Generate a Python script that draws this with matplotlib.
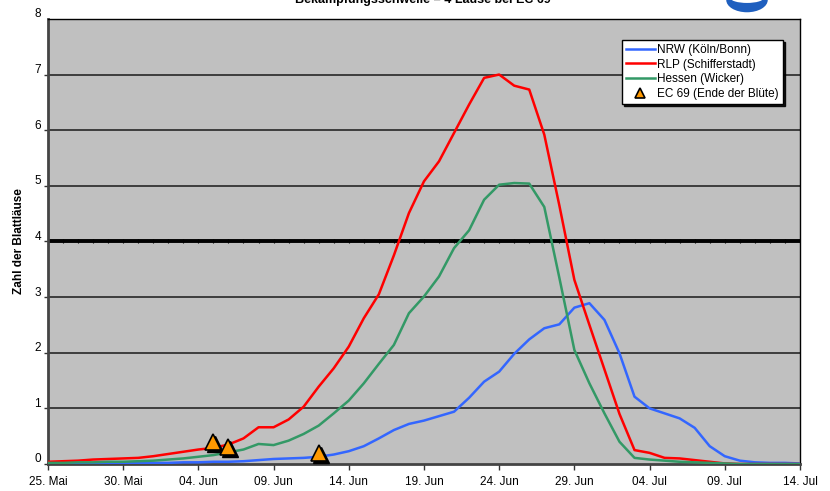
import numpy as np
import matplotlib
matplotlib.use("Agg")
import matplotlib.pyplot as plt
from matplotlib import transforms
from matplotlib.patches import Ellipse

plt.rcParams['font.family'] = ['Liberation Sans', 'DejaVu Sans']

# days since 25. Mai
days = np.arange(0, 51)
date_labels = ['25. Mai', '30. Mai', '04. Jun', '09. Jun', '14. Jun',
               '19. Jun', '24. Jun', '29. Jun', '04. Jul', '09. Jul', '14. Jul']

nrw = [0.01, 0.01, 0.01, 0.01, 0.01, 0.02, 0.02, 0.02, 0.02, 0.03,
       0.03, 0.04, 0.04, 0.05, 0.07, 0.09, 0.10, 0.11, 0.13, 0.17,
       0.23, 0.32, 0.46, 0.61, 0.72, 0.78, 0.86, 0.94, 1.19, 1.48,
       1.66, 1.98, 2.24, 2.44, 2.51, 2.81, 2.89, 2.59, 1.99, 1.21,
       1.00, 0.91, 0.82, 0.65, 0.32, 0.14, 0.06, 0.03, 0.02, 0.02, 0.01]
rlp = [0.04, 0.05, 0.06, 0.08, 0.09, 0.10, 0.11, 0.14, 0.18, 0.22,
       0.26, 0.29, 0.35, 0.46, 0.66, 0.66, 0.80, 1.03, 1.39, 1.72,
       2.11, 2.62, 3.05, 3.75, 4.51, 5.08, 5.44, 5.95, 6.46, 6.94,
       7.00, 6.80, 6.73, 5.92, 4.65, 3.31, 2.50, 1.70, 0.90, 0.25,
       0.20, 0.11, 0.10, 0.07, 0.04, 0.01, 0.00, 0.00, 0.00, 0.00, 0.00]
hessen = [0.02, 0.02, 0.03, 0.03, 0.04, 0.04, 0.05, 0.06, 0.08, 0.10,
          0.13, 0.16, 0.21, 0.26, 0.36, 0.34, 0.42, 0.54, 0.69, 0.91,
          1.14, 1.45, 1.80, 2.14, 2.71, 3.01, 3.37, 3.88, 4.20, 4.75,
          5.02, 5.05, 5.04, 4.62, 3.35, 2.05, 1.45, 0.91, 0.40, 0.11,
          0.08, 0.06, 0.04, 0.03, 0.02, 0.01, 0.00, 0.00, 0.00, 0.00, 0.00]

# EC 69 (Ende der Blüte)
ec69_days = [11, 12, 18]
ec69_vals = [0.40, 0.30, 0.20]

threshold = 4

fig = plt.figure(figsize=(8.3, 4.91), dpi=100)
ax = fig.add_axes([0.0578, 0.055, 0.906, 0.9065])
ax.set_facecolor('#C0C0C0')

for y in range(1, 8):
    ax.axhline(y, color='#1a1a1a', lw=1.1, zorder=1)
ax.plot(days, [threshold] * len(days), color='black', lw=2.8,
        marker='|', ms=3, mew=0.8, zorder=2)

ax.plot(days, nrw, color='#3366FF', lw=1.8, label='NRW (Köln/Bonn)', zorder=3)
ax.plot(days, rlp, color='#FF0000', lw=1.8, label='RLP (Schifferstadt)', zorder=3)
ax.plot(days, hessen, color='#339966', lw=1.8, label='Hessen (Wicker)', zorder=3)

# marker shadow, then the marker itself
shadow = transforms.offset_copy(ax.transData, fig=fig, x=2, y=-2, units='dots')
ax.plot(ec69_days, ec69_vals, ls='none', marker='^', ms=11, color='black',
        transform=shadow, zorder=4)
ax.plot(ec69_days, ec69_vals, ls='none', marker='^', ms=11, mfc='#FF9900',
        mec='black', mew=1.2, label='EC 69 (Ende der Blüte)', zorder=5)

ax.set_xlim(0, 50)
ax.set_ylim(0, 8)
ax.set_xticks(np.arange(0, 51, 5))
ax.set_xticklabels(date_labels)
ax.set_yticks(range(0, 9))
ax.tick_params(axis='both', labelsize=8.5, length=4, width=1, color='#333333')
ax.tick_params(axis='x', pad=5)
ax.tick_params(axis='y', length=3, pad=2)

# y labels sit a little above their tick
lift = transforms.ScaledTranslation(0, 0.06, fig.dpi_scale_trans)
for lab in ax.get_yticklabels():
    lab.set_transform(lab.get_transform() + lift)
ax.yaxis.get_major_ticks()[-1].tick1line.set_visible(False)

for side in ['top', 'right']:
    ax.spines[side].set_color('black')
    ax.spines[side].set_linewidth(1)
for side in ['left', 'bottom']:
    ax.spines[side].set_color('#444444')
    ax.spines[side].set_linewidth(2)

ax.set_ylabel('Zahl der Blattläuse', fontsize=8.5, fontweight='bold')
ax.yaxis.set_label_coords(-0.030, 0.5)

leg = ax.legend(loc='upper right', bbox_to_anchor=(0.977, 0.953), fontsize=8.5,
                frameon=True, fancybox=False, edgecolor='black', framealpha=1,
                borderpad=0.35, handlelength=2.4, handletextpad=0.2,
                labelspacing=0.22, borderaxespad=0,
                shadow={'color': 'black', 'alpha': 0.9, 'ox': 1.5, 'oy': -1.5})
leg.get_frame().set_linewidth(1)
for h in leg.legend_handles[3:]:
    h.set_markersize(7)

fig.text(0.509, 1 - 3 / 491, 'Bekämpfungsschwelle = 4 Läuse bei EC 69',
         ha='center', va='baseline', fontsize=9, fontweight='bold')

# logo, mostly above the upper edge
logo = Ellipse((0.9, 1.0), 0.05, 0.05, transform=fig.transFigure,
               facecolor='#1f5fbf', edgecolor='none', clip_on=False)
fig.add_artist(logo)
logo_band = Ellipse((0.9, 1.004), 0.04, 0.02, transform=fig.transFigure,
                    facecolor='white', edgecolor='none', clip_on=False)
fig.add_artist(logo_band)

fig.savefig('out.png', dpi=100)
